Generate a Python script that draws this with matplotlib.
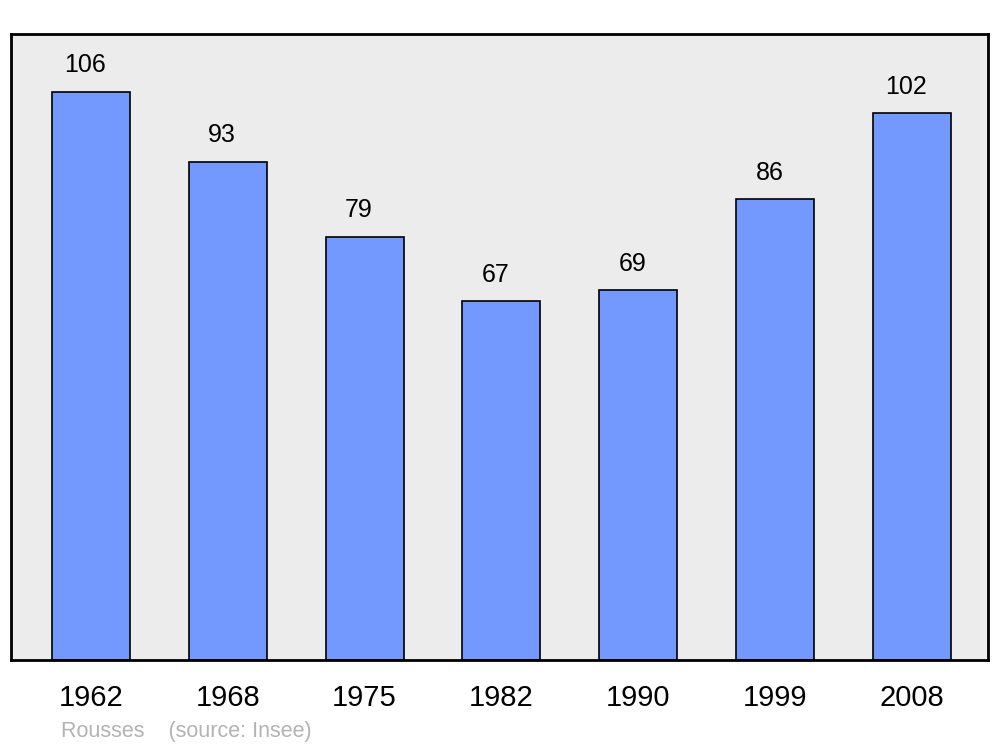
import matplotlib.pyplot as plt
import numpy as np

plt.rcParams['font.family'] = ['Liberation Sans', 'DejaVu Sans']

years = ['1962', '1968', '1975', '1982', '1990', '1999', '2008']
population = [106, 93, 79, 67, 69, 86, 102]

BAR_COLOR = '#7399ff'
BG_COLOR = '#ececec'

fig = plt.figure(figsize=(10, 7.47), dpi=100)
ax = fig.add_axes([11 / 1000, 1 - 660 / 747, 977 / 1000, 626 / 747])
ax.set_facecolor(BG_COLOR)

x = np.arange(len(years))
ax.bar(x, population, width=0.57, color=BAR_COLOR, edgecolor='black', linewidth=1.2, zorder=2)

# value labels above bars
for xi, v in zip(x, population):
    ax.annotate(str(v), (xi, v), xytext=(-4, 19), textcoords='offset points',
                ha='center', va='center', fontsize=18)

ax.set_xlim(-0.585, 6.557)
ax.set_ylim(0, 116.8)
ax.set_xticks(x)
ax.set_xticklabels(years, fontsize=21)
ax.tick_params(axis='x', length=0, pad=17)
ax.set_yticks([])
for s in ax.spines.values():
    s.set_linewidth(2)

fig.text(61 / 1000, 1 - 732 / 747, 'Rousses    (source: Insee)', color='#b3b3b3',
         fontsize=15.5, va='center', ha='left')

fig.savefig('out.png', dpi=100)
